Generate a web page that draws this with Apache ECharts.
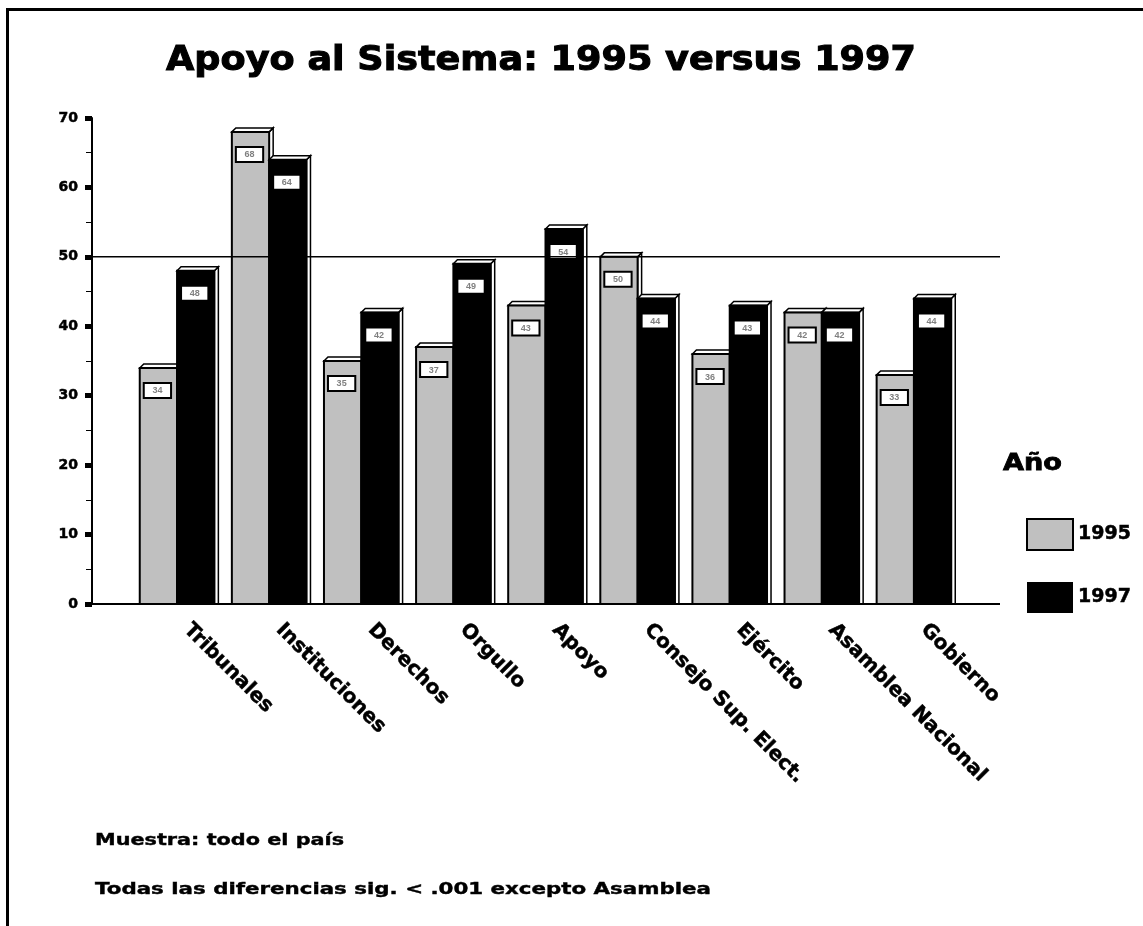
<!DOCTYPE html>
<html>
<head>
<meta charset="utf-8">
<script src="https://cdn.jsdelivr.net/npm/echarts@6/dist/echarts.min.js"></script>
<style>
  html, body { margin: 0; padding: 0; background: #fff; }
  #chart { position: absolute; left: 0; top: 0; width: 1143px; height: 926px; }
  #frame { position: absolute; left: 6px; top: 8px; right: 0; bottom: 0;
           border-top: 3px solid #000; border-left: 3px solid #000; pointer-events: none; }
</style>
</head>
<body>
<div id="chart"></div>
<div id="frame"></div>
<script>
// Institutions and the share of support recorded in each survey year
const categories = ['Tribunales', 'Instituciones', 'Derechos', 'Orgullo', 'Apoyo',
                    'Consejo Sup. Elect.', 'Ejército', 'Asamblea Nacional', 'Gobierno'];
const values1995 = [34, 68, 35, 37, 43, 50, 36, 42, 33];
const values1997 = [48, 64, 42, 49, 54, 44, 43, 42, 44];
const yearNames = ['1995', '1997'];
const referenceLevel = 50;

const titleText = 'Apoyo al Sistema: 1995 versus 1997';
const legendTitle = 'Año';
const noteSample = 'Muestra: todo el país';
const noteSignificance = 'Todas las diferencias sig. < .001 excepto Asamblea';

const GRAY = '#c0c0c0';
const BLACK = '#000000';
const FONT = "'DejaVu Sans', 'Liberation Sans', sans-serif";

// Horizontal stretch so the heavy lettering fills its intended width
const measureCtx = document.createElement('canvas').getContext('2d');
function stretch(text, font, width) {
  measureCtx.font = font;
  return width / measureCtx.measureText(text).width;
}

// Draws one pseudo-3D bar (front face, top and side faces, value tag)
function barRenderer(slot, fill) {
  return function (params, api) {
    const i = api.value(0);
    const v = api.value(1);
    const topPt = api.coord([i, v]);
    const basePt = api.coord([i, 0]);
    const band = api.size([1, 0])[0];
    const w = band * 0.405;
    const d = 4;
    const x0 = slot === 0 ? topPt[0] - w : topPt[0];
    const x1 = x0 + w;
    const top = topPt[1];
    const bottom = basePt[1];
    const face = { fill: '#fff', stroke: BLACK, lineWidth: 1.5 };
    const tagW = w - 10;
    return {
      type: 'group',
      children: [
        { type: 'polygon', shape: { points: [[x1, bottom], [x1, top], [x1 + d, top - d], [x1 + d, bottom]] }, style: face },
        { type: 'polygon', shape: { points: [[x0, top], [x0 + d, top - d], [x1 + d, top - d], [x1, top]] }, style: face },
        { type: 'rect', shape: { x: x0, y: top, width: w, height: bottom - top }, style: { fill: fill, stroke: BLACK, lineWidth: 2 } },
        { type: 'rect', shape: { x: x0 + 4, y: top + 15, width: tagW, height: 15 }, style: { fill: '#fff', stroke: BLACK, lineWidth: 2 } },
        { type: 'text', x: x0 + 4 + tagW / 2, y: top + 23,
          style: { text: String(v), fill: '#808080', font: "bold 9px 'Liberation Sans', sans-serif", align: 'center', verticalAlign: 'middle' } }
      ]
    };
  };
}

const chart = echarts.init(document.getElementById('chart'), null, { renderer: 'canvas' });

const titleFont = 'bold 33px ' + FONT;
const legendTitleFont = 'bold 23px ' + FONT;
const noteFont = 'bold 16px ' + FONT;

const option = {
  animation: false,
  backgroundColor: '#fff',
  grid: [
    { left: 131, right: 183, top: 118, bottom: 322 },
    { left: 92, right: 143, top: 118, bottom: 322 }
  ],
  xAxis: [
    {
      type: 'category', gridIndex: 0, data: categories,
      axisLine: { show: false }, axisTick: { show: false },
      axisLabel: { interval: 0, rotate: -45, margin: 13, padding: [0, 0, 0, 14], color: BLACK,
                   fontFamily: FONT, fontWeight: 'bold', fontSize: 20,
                   textBorderColor: BLACK, textBorderWidth: 0.5 }
    },
    { type: 'value', gridIndex: 1, min: 0, max: 1, show: false }
  ],
  yAxis: [
    {
      type: 'value', gridIndex: 0, min: 0, max: 70, interval: 10, offset: 39,
      axisLine: { show: true, lineStyle: { color: BLACK, width: 2 } },
      axisTick: { show: true, length: 7, lineStyle: { color: BLACK, width: 5 } },
      minorTick: { show: true, splitNumber: 2, length: 6, lineStyle: { color: BLACK, width: 1 } },
      splitLine: { show: false },
      axisLabel: { color: BLACK, fontFamily: FONT, fontWeight: 'bold', fontSize: 14, margin: 14,
                   textBorderColor: BLACK, textBorderWidth: 0.5 }
    },
    { type: 'value', gridIndex: 1, min: 0, max: 70, show: false }
  ],
  legend: {
    orient: 'vertical', left: 1021, top: 513,
    itemWidth: 46, itemHeight: 31, itemGap: 31,
    textStyle: { color: BLACK, fontFamily: FONT, fontWeight: 'bold', fontSize: 19,
                 textBorderColor: BLACK, textBorderWidth: 0.5 },
    data: [
      { name: yearNames[0], icon: 'rect', itemStyle: { color: GRAY, borderColor: BLACK, borderWidth: 2 } },
      { name: yearNames[1], icon: 'rect', itemStyle: { color: BLACK, borderColor: BLACK, borderWidth: 0 } }
    ]
  },
  series: [
    {
      name: 'ref50', type: 'line', xAxisIndex: 1, yAxisIndex: 1, silent: true,
      symbol: 'none', lineStyle: { color: BLACK, width: 1.5 },
      data: [[0, referenceLevel], [1, referenceLevel]]
    },
    {
      name: yearNames[0], type: 'custom', xAxisIndex: 0, yAxisIndex: 0,
      itemStyle: { color: GRAY },
      renderItem: barRenderer(0, GRAY),
      data: values1995.map((v, i) => [i, v])
    },
    {
      name: yearNames[1], type: 'custom', xAxisIndex: 0, yAxisIndex: 0,
      itemStyle: { color: BLACK },
      renderItem: barRenderer(1, BLACK),
      data: values1997.map((v, i) => [i, v])
    },
    {
      name: 'base', type: 'line', xAxisIndex: 1, yAxisIndex: 1, silent: true,
      symbol: 'none', lineStyle: { color: BLACK, width: 2 },
      data: [[0, 0], [1, 0]]
    }
  ],
  graphic: [
    { type: 'text', x: 541, y: 61, scaleX: stretch(titleText, titleFont, 750),
      style: { text: titleText, font: titleFont, fill: BLACK, stroke: BLACK, lineWidth: 1.0,
               align: 'center', verticalAlign: 'middle' } },
    { type: 'text', x: 1003, y: 464, scaleX: stretch(legendTitle, legendTitleFont, 59),
      style: { text: legendTitle, font: legendTitleFont, fill: BLACK, stroke: BLACK, lineWidth: 0.8,
               align: 'left', verticalAlign: 'middle' } },
    { type: 'text', x: 95, y: 841, scaleX: stretch(noteSample, noteFont, 249),
      style: { text: noteSample, font: noteFont, fill: BLACK, stroke: BLACK, lineWidth: 0.4,
               align: 'left', verticalAlign: 'middle' } },
    { type: 'text', x: 95, y: 890, scaleX: stretch(noteSignificance, noteFont, 616),
      style: { text: noteSignificance, font: noteFont, fill: BLACK, stroke: BLACK, lineWidth: 0.4,
               align: 'left', verticalAlign: 'middle' } }
  ]
};

chart.setOption(option);
</script>
</body>
</html>
